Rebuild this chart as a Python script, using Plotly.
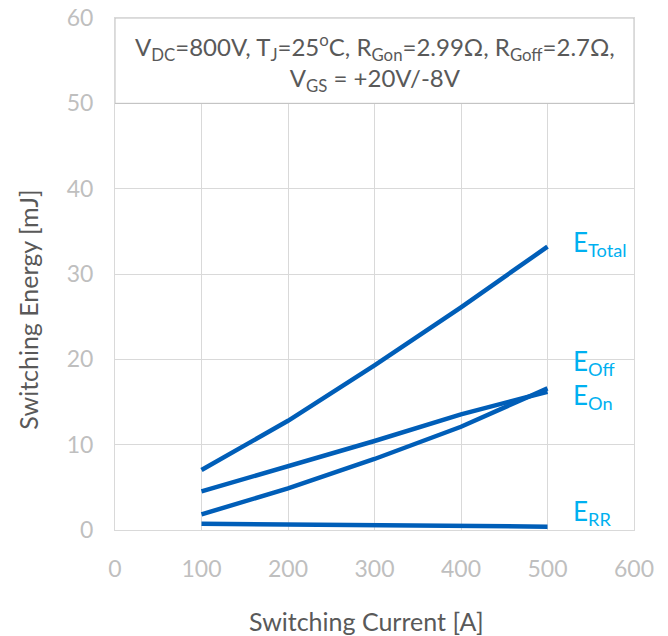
import plotly.graph_objects as go

current = [100, 200, 300, 400, 500]
e_total = [7.03, 12.8, 19.3, 26.1, 33.2]
e_off = [4.53, 7.42, 10.43, 13.56, 16.2]
e_on = [1.83, 4.88, 8.32, 12.1, 16.6]
e_rr = [0.74, 0.62, 0.6, 0.5, 0.39]

x_ticks = [0, 100, 200, 300, 400, 500, 600]
y_ticks = [0, 10, 20, 30, 40, 50, 60]

series = [("E<sub>Total</sub>", e_total, 33.6),
          ("E<sub>Off</sub>", e_off, 19.6),
          ("E<sub>On</sub>", e_on, 15.6),
          ("E<sub>RR</sub>", e_rr, 2.05)]

line_color = "#005EB8"
label_color = "#00B0F0"
grid_color = "#D9D9D9"
font_family = "Lato, 'Open Sans', sans-serif"

fig = go.Figure()
for name, vals, _ in series:
    fig.add_trace(go.Scatter(x=current, y=vals, mode="lines", name=name,
                             line=dict(color=line_color, width=4.5),
                             showlegend=False))

annotations = []
for name, vals, ylab in series:
    annotations.append(dict(x=527, y=ylab, xref="x", yref="y", text=name,
                            showarrow=False, xanchor="left", yanchor="middle",
                            font=dict(color=label_color, size=26, family=font_family)))

annotations.append(dict(x=300, y=54.8, xref="x", yref="y",
                        text="V<sub>DC</sub>=800V, T<sub>J</sub>=25<sup>o</sup>C, R<sub>Gon</sub>=2.99Ω, R<sub>Goff</sub>=2.7Ω,<br>V<sub>GS</sub> = +20V/-8V",
                        showarrow=False, xanchor="center", yanchor="middle",
                        font=dict(color="#595959", size=24, family=font_family)))

annotations.append(dict(x=0.485, y=-0.178, xref="paper", yref="paper",
                        text="Switching Current [A]", showarrow=False,
                        xanchor="center", yanchor="middle",
                        font=dict(color="#595959", size=25, family=font_family)))
annotations.append(dict(x=-0.168, y=0.43, xref="paper", yref="paper",
                        text="Switching Energy [mJ]", showarrow=False, textangle=-90,
                        xanchor="center", yanchor="middle",
                        font=dict(color="#595959", size=25, family=font_family)))

fig.add_shape(type="rect", x0=0, x1=600, y0=50, y1=60, xref="x", yref="y",
              fillcolor="white", line=dict(color="#BFBFBF", width=1), layer="above")

fig.update_layout(
    width=668, height=636,
    margin=dict(l=115, r=34, t=18, b=106, autoexpand=False),
    paper_bgcolor="white", plot_bgcolor="white",
    annotations=annotations,
    font=dict(family=font_family),
    xaxis=dict(range=[0, 600], tickvals=x_ticks, showgrid=True, gridcolor=grid_color,
               zeroline=False, showline=True, linecolor=grid_color, mirror=True,
               automargin=False,
               ticks="", tickfont=dict(color="#BFBFBF", size=23), ticklabelstandoff=18),
    yaxis=dict(range=[0, 60], tickvals=y_ticks, showgrid=True, gridcolor=grid_color,
               zeroline=False, showline=True, linecolor=grid_color, mirror=True,
               automargin=False,
               ticks="", tickfont=dict(color="#BFBFBF", size=23), ticklabelstandoff=16),
)

fig.write_html("out.html")
